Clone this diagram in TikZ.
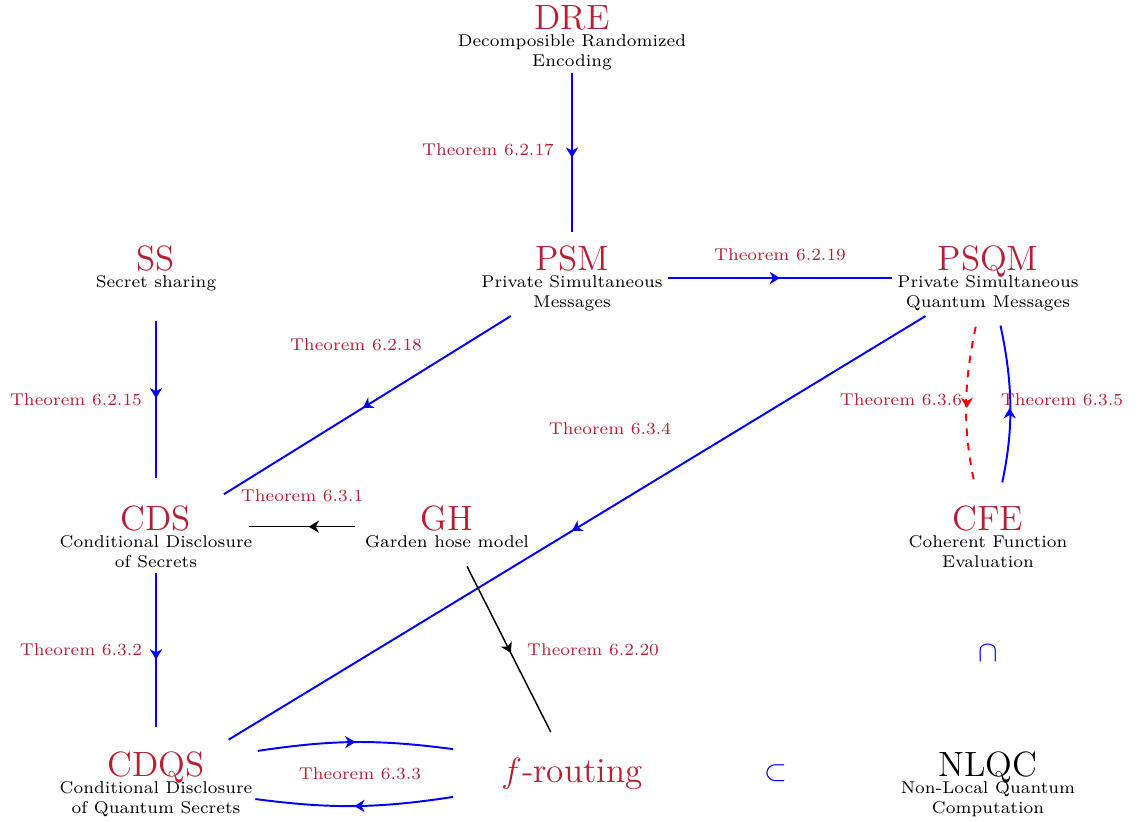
\documentclass[tikz,border=0pt]{standalone}
\usepackage{amsmath,amssymb}
\usepackage{xcolor}
\usepackage{tikz}
\usetikzlibrary{arrows.meta,decorations.markings}
\definecolor{thmred}{HTML}{B71F32}
\tikzset{
  box/.style={align=center, font=\scriptsize, inner sep=2pt, anchor=north},
  thm/.style={text=thmred, font=\scriptsize},
  mid/.style={postaction={decorate}, decoration={markings, mark=at position 0.5 with {\arrow{Stealth[length=4.2pt,width=5pt,inset=1.3pt]}}}},
  imp/.style={draw=blue, thick, mid},
  blk/.style={draw=black, semithick, mid},
  cnj/.style={draw=red, thick, dashed, mid},
  rel/.style={text=blue, font=\large},
}
\newcommand{\ttl}[1]{{\Large\color{thmred}#1}}

\begin{document}
\begin{tikzpicture}[x=0.41pt, y=-0.41pt]
  \useasboundingbox (0,0) rectangle (1146,821);
  % concepts
  \node[box] (dre)  at (572,0)   {\ttl{DRE}\\[-0.8pt]Decomposible Randomized\\Encoding};
  \node[box] (ss)   at (156,240) {\ttl{SS}\\[-0.8pt]Secret sharing};
  \node[box] (psm)  at (572,240) {\ttl{PSM}\\[-0.8pt]Private Simultaneous\\Messages};
  \node[box] (psqm) at (988,240) {\ttl{PSQM}\\[-0.8pt]Private Simultaneous\\Quantum Messages};
  \node[box] (cds)  at (156,500) {\ttl{CDS}\\[-0.8pt]Conditional Disclosure\\of Secrets};
  \node[box] (gh)   at (447,500) {\ttl{GH}\\[-0.8pt]Garden hose model};
  \node[box] (cfe)  at (988,500) {\ttl{CFE}\\[-0.8pt]Coherent Function\\Evaluation};
  \node[box] (cdqs) at (156,746) {\ttl{CDQS}\\[-0.8pt]Conditional Disclosure\\of Quantum Secrets};
  \node[inner sep=2pt] (frt) at (572,774) {\ttl{$f$-routing}};
  \node[box] (nlqc) at (988,746) {{\Large NLQC}\\[-0.8pt]Non-Local Quantum\\Computation};
  \node[rel] (cap) at (988,653) {$\cap$};
  \node[rel] (sub) at (776,773) {$\subset$};
  % reductions
  \draw[imp, shorten <=-1pt, shorten >=3.3pt] (dre) -- (psm);
  \draw[imp] (psm) -- (psqm);
  \draw[imp, shorten <=10pt, shorten >=9pt] (ss) -- (cds);
  \draw[imp, shorten >=4.5pt] (psm) -- (cds);
  \draw[imp, shorten >=5pt] (psqm) -- (cdqs);
  \draw[blk, shorten <=2pt, shorten >=-3.5pt] (gh.west) -- (gh.west -| cds.east);
  \draw[imp, shorten >=7.8pt] (cds) -- (cdqs);
  \draw[blk, shorten <=6pt, shorten >=9.6pt] (gh) -- (frt);
  \draw[cnj, shorten <=4.5pt, shorten >=7.4pt] ([xshift=-4.1pt]psqm.south) to[bend right=12] ([xshift=-4.1pt]cfe.north);
  \draw[imp, shorten <=7.4pt, shorten >=4pt] ([xshift=4.3pt]cfe.north) to[bend right=12] ([xshift=4.3pt]psqm.south);
  \draw[imp] ([yshift=-2pt]cdqs.north east) to[bend left=8] ([xshift=-17.6pt, yshift=10.2pt]frt.west);
  \draw[imp] ([xshift=-17.6pt, yshift=-9.4pt]frt.west) to[bend left=8] ([xshift=-1pt, yshift=-6.2pt]cdqs.east);
  % theorem labels
  \node[thm] (t17) at (488,150) {Theorem 6.2.17};
  \node[thm] (t19) at (780,255) {Theorem 6.2.19};
  \node[thm] (t18) at (356,345) {Theorem 6.2.18};
  \node[thm] (t15) at (76,400)  {Theorem 6.2.15};
  \node[thm] (t34) at (610,429) {Theorem 6.3.4};
  \node[thm] (t36) at (901,400) {Theorem 6.3.6};
  \node[thm] (t35) at (1062,400) {Theorem 6.3.5};
  \node[thm] (t31) at (302,496) {Theorem 6.3.1};
  \node[thm] (t32) at (81,650)  {Theorem 6.3.2};
  \node[thm] (t20) at (593,650) {Theorem 6.2.20};
  \node[thm] (t33) at (360,774) {Theorem 6.3.3};
\end{tikzpicture}
\end{document}
